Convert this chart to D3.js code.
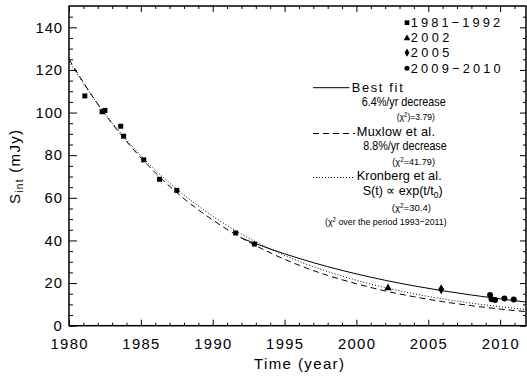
<!DOCTYPE html>
<html><head><meta charset="utf-8">
<script src="https://cdn.jsdelivr.net/npm/d3@7"></script>
<style>body{margin:0;background:#fff}svg{display:block}text{font-family:"Liberation Sans",Arial,sans-serif;fill:#000}</style>
</head><body><svg id="c" width="527" height="378"></svg>
<script>
// ---- data ----
const squareYears = [1981.1, 1982.3, 1982.5, 1983.6, 1983.8, 1985.2, 1986.3, 1987.5, 1991.6, 1992.9];
const squareFlux  = [107.8, 100.4, 101.0, 93.6, 88.9, 77.8, 68.7, 63.5, 43.5, 38.3];
const triangleYears = [2002.2];
const triangleFlux  = [17.7];
const diamondYears = [2005.9];
const diamondFlux  = [17.1];
const circleYears = [2009.3, 2009.4, 2009.65, 2010.3, 2010.95];
const circleFlux  = [14.4, 12.4, 12.1, 12.8, 12.3];

const fitYears = [1992, 1994, 1996, 1998, 2000, 2002, 2004, 2006, 2008, 2010, 2011.8];
const fitFlux  = [41.1, 36.0, 31.6, 27.7, 24.3, 21.3, 18.7, 16.4, 14.4, 12.6, 11.1];
const modelYears = [1980, 1982, 1984, 1986, 1988, 1990, 1992, 1994, 1996, 1998, 2000, 2002, 2004, 2006, 2008, 2010, 2011.8];
const muxlowFlux   = [125, 104.0, 86.5, 71.8, 59.6, 49.6, 41.2, 34.2, 28.4, 23.6, 19.7, 16.3, 13.6, 11.3, 9.4, 7.8, 6.6];
const kronbergFlux = [124, 104.0, 87.2, 73.1, 61.3, 51.4, 43.0, 36.0, 30.2, 25.4, 21.3, 17.9, 15.0, 12.6, 10.6, 8.9, 7.6];

const xMajor = [1980, 1985, 1990, 1995, 2000, 2005, 2010];
const yMajor = [0, 20, 40, 60, 80, 100, 120, 140];

// ---- layout ----
const L = 69, R = 526, T = 6, B = 325.7;
const svg = d3.select("#c");
const x = d3.scaleLinear().domain([1980, 2011.8]).range([L, R]);
const y = d3.scaleLinear().domain([0, 150]).range([B, T]);

// curves
const line = d3.line().x(d => x(d[0])).y(d => y(d[1])).curve(d3.curveMonotoneX);
svg.append("clipPath").attr("id","pc").append("rect").attr("x",L).attr("y",T).attr("width",R-L).attr("height",B-T);
const g = svg.append("g").attr("clip-path","url(#pc)");
g.append("path").datum(d3.zip(modelYears, kronbergFlux)).attr("d", line)
  .attr("fill","none").attr("stroke","#000").attr("stroke-width",1).attr("stroke-dasharray","1,2");
g.append("path").datum(d3.zip(modelYears, muxlowFlux)).attr("d", line)
  .attr("fill","none").attr("stroke","#000").attr("stroke-width",1).attr("stroke-dasharray","6,4");
g.append("path").datum(d3.zip(fitYears, fitFlux)).attr("d", line)
  .attr("fill","none").attr("stroke","#000").attr("stroke-width",1);

// markers
const sym = (type, size) => d3.symbol().type(type).size(size);
svg.append("g").selectAll("path").data(d3.zip(squareYears, squareFlux)).join("path")
  .attr("transform", d => `translate(${x(d[0])},${y(d[1])})`).attr("d", sym(d3.symbolSquare, 25)());
svg.append("g").selectAll("path").data(d3.zip(triangleYears, triangleFlux)).join("path")
  .attr("transform", d => `translate(${x(d[0])},${y(d[1])})`).attr("d", sym(d3.symbolTriangle, 25)());
svg.append("g").selectAll("path").data(d3.zip(diamondYears, diamondFlux)).join("path")
  .attr("transform", d => `translate(${x(d[0])},${y(d[1])})`).attr("d", sym(d3.symbolDiamond, 30)());
svg.append("g").selectAll("path").data(d3.zip(circleYears, circleFlux)).join("path")
  .attr("transform", d => `translate(${x(d[0])},${y(d[1])})`).attr("d", sym(d3.symbolCircle, 28)());

// axes
const xMinor = d3.range(1981, 2012).filter(v => !xMajor.includes(v));
const yMinor = d3.range(5, 150, 5).filter(v => !yMajor.includes(v));
const noDom = a => a.select(".domain").remove();
svg.append("g").attr("transform",`translate(0,${B})`).call(d3.axisTop(x).tickValues(xMajor).tickSize(6).tickFormat("")).call(noDom);
svg.append("g").attr("transform",`translate(0,${B})`).call(d3.axisTop(x).tickValues(xMinor).tickSize(3).tickFormat("")).call(noDom);
svg.append("g").attr("transform",`translate(0,${T})`).call(d3.axisBottom(x).tickValues(xMajor).tickSize(6).tickFormat("")).call(noDom);
svg.append("g").attr("transform",`translate(0,${T})`).call(d3.axisBottom(x).tickValues(xMinor).tickSize(3).tickFormat("")).call(noDom);
svg.append("g").attr("transform",`translate(${L},0)`).call(d3.axisRight(y).tickValues(yMajor).tickSize(8).tickFormat("")).call(noDom);
svg.append("g").attr("transform",`translate(${L},0)`).call(d3.axisRight(y).tickValues(yMinor).tickSize(4).tickFormat("")).call(noDom);
svg.append("g").attr("transform",`translate(${R},0)`).call(d3.axisLeft(y).tickValues(yMajor).tickSize(6).tickFormat("")).call(noDom);
svg.append("g").attr("transform",`translate(${R},0)`).call(d3.axisLeft(y).tickValues(yMinor).tickSize(3).tickFormat("")).call(noDom);
svg.selectAll(".tick line").attr("stroke","#000").attr("stroke-width",1);
svg.append("rect").attr("x",L).attr("y",T).attr("width",R-L).attr("height",B-T)
  .attr("fill","none").attr("stroke","#000").attr("stroke-width",1.5);

// tick labels
svg.append("g").selectAll("text").data(xMajor).join("text")
  .attr("x", d => x(d) - 18.5).attr("y", 348.5).attr("font-size",14.8)
  .attr("textLength", 37).attr("lengthAdjust","spacing").text(d => d);
svg.append("g").selectAll("text").data(yMajor).join("text")
  .attr("x", d => 62.5 - String(d).length * 9).attr("y", d => y(d) + 5.3).attr("font-size",14.8)
  .attr("textLength", d => String(d).length * 9 - 0.5).attr("lengthAdjust","spacing").text(d => d);

// axis titles
svg.append("text").attr("x", 254).attr("y", 368.5).attr("font-size",15)
  .attr("textLength", 90).attr("lengthAdjust","spacing").text("Time (year)");
const yt = svg.append("text").attr("transform",`translate(19.5,204) rotate(-90)`).attr("font-size",15)
  .attr("textLength", 74).attr("lengthAdjust","spacing");
yt.append("tspan").text("S");
yt.append("tspan").attr("font-size",10).attr("dy",3).text("int");
yt.append("tspan").attr("dy",-3).text(" (mJy)");

// legend
const leg = svg.append("g");
function ltext(x0, x1, yb, fs, parts){
  const t = leg.append("text").attr("x",x0).attr("y",yb).attr("font-size",fs);
  parts.forEach(p => {
    const s = t.append("tspan").text(p.t);
    if (p.fs) s.attr("font-size", p.fs);
    if (p.dy) s.attr("dy", p.dy);
  });
  const nat = t.node().getComputedTextLength();
  t.attr("textLength", x1-x0).attr("lengthAdjust", nat > (x1-x0) ? "spacingAndGlyphs" : "spacing");
  return t;
}
const symX = 407;
leg.append("path").attr("transform",`translate(${symX},22.7)`).attr("d", sym(d3.symbolSquare, 22)());
leg.append("path").attr("transform",`translate(${symX},38.3)`).attr("d", sym(d3.symbolTriangle, 20)());
leg.append("path").attr("transform",`translate(${symX},52.7)`).attr("d", sym(d3.symbolDiamond, 20)());
leg.append("path").attr("transform",`translate(${symX},68.3)`).attr("d", sym(d3.symbolCircle, 20)());
const F = 12.8, S = 9.5;
ltext(410.7, 500, 27.3, F, [{t:"1981\u22121992"}]);
ltext(410.7, 449.3, 42.3, F, [{t:"2002"}]);
ltext(410.7, 449.3, 57.3, F, [{t:"2005"}]);
ltext(410.7, 500.7, 72.7, F, [{t:"2009\u22122010"}]);
leg.append("line").attr("x1",313).attr("x2",349.5).attr("y1",87.7).attr("y2",87.7).attr("stroke","#000");
ltext(351.7, 402.7, 91.7, F, [{t:"Best fit"}]);
ltext(361.7, 445.7, 106, F, [{t:"6.4%/yr decrease"}]);
ltext(396.7, 435, 119.5, S, [{t:"(\u03c7"},{t:"2",fs:6.5,dy:-3},{t:")=3.79)",dy:3}]);
leg.append("line").attr("x1",313).attr("x2",355).attr("y1",133.5).attr("y2",133.5).attr("stroke","#000").attr("stroke-dasharray","6,4");
ltext(356.7, 435, 136, F, [{t:"Muxlow et al."}]);
ltext(363.3, 446.7, 150, F, [{t:"8.8%/yr decrease"}]);
ltext(392.3, 435, 165, S, [{t:"(\u03c7"},{t:"2",fs:6.5,dy:-3},{t:"=41.79)",dy:3}]);
leg.append("line").attr("x1",313).attr("x2",353).attr("y1",177.5).attr("y2",177.5).attr("stroke","#000").attr("stroke-dasharray","1,2");
ltext(356.7, 441.7, 180, F, [{t:"Kronberg et al."}]);
ltext(362.7, 442.7, 195, F, [{t:"S(t) \u221d exp(t/t"},{t:"0",fs:8.5,dy:2.5},{t:")",dy:-2.5}]);
ltext(391.7, 431, 210.7, S, [{t:"(\u03c7"},{t:"2",fs:6.5,dy:-3},{t:"=30.4)",dy:3}]);
ltext(325, 446.7, 224.5, S, [{t:"(\u03c7"},{t:"2",fs:6.5,dy:-3},{t:" over the period 1993\u22122011)",dy:3}]);
</script></body></html>
